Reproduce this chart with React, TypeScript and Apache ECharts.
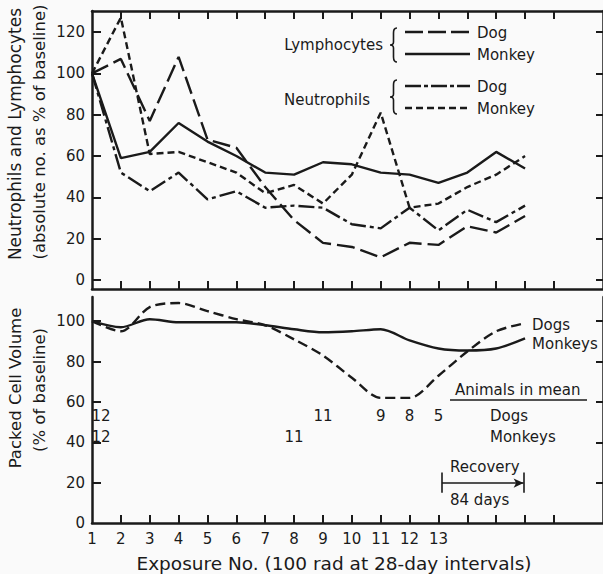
import React, { useEffect, useRef } from "react";
import * as echarts from "echarts";

const exposures = [1, 2, 3, 4, 5, 6, 7, 8, 9, 10, 11, 12, 13, 14, 15, 16];
const lymphDog = [100, 107, 77, 108, 68, 64, 45, 29, 18, 16, 11, 18, 17, 26, 23, 31];
const lymphMonkey = [100, 59, 62, 76, 67, 60, 52, 51, 57, 56, 52, 51, 47, 52, 62, 54];
const neutroDog = [100, 52, 43, 52, 39, 43, 35, 36, 35, 27, 25, 35, 24, 34, 28, 36];
const neutroMonkey = [100, 127, 61, 62, 57, 52, 42, 46, 37, 51, 81, 35, 37, 45, 51, 60];
const pcvDogs = [100, 95, 107, 109, 105, 101, 98, 91, 83, 72, 62, 62, 73, 85, 95, 99];
const pcvMonkeys = [100, 97, 101, 99.5, 99.5, 99.5, 98, 96, 94.5, 95, 96, 90.5, 86.5, 85.5, 86.5, 91.5];

const dogCountExposures = [1, 9, 11, 12, 13];
const dogCounts = [12, 11, 9, 8, 5];
const monkeyCountExposures = [1, 8];
const monkeyCounts = [12, 11];

const topYTicks = [0, 20, 40, 60, 80, 100, 120];
const bottomYLabels = [0, 20, 40, 60, 80, 100];
const bottomYTicks = [20, 40, 60, 80, 100];
const xTickValues = [2, 3, 4, 5, 6, 7, 8, 9, 10, 11, 12, 13, 14, 15, 16, 17];
const xLabelValues = [1, 2, 3, 4, 5, 6, 7, 8, 9, 10, 11, 12, 13];

const recoveryStart = 13.12;
const recoveryEnd = 15.95;

const INK = "#1a1a1a";
const FONT = "DejaVu Sans";

function pairs(xs: number[], ys: number[]) {
  return xs.map((x, i) => [x, ys[i]]);
}

export default function App() {
  const ref = useRef<HTMLDivElement>(null);
  useEffect(() => {
    if (!ref.current) return;
    try {
      echarts.graphic.registerShape(
        "brace",
        echarts.graphic.extendPath(
          "M7 0 C4 0 3.5 2 3.5 5 L3.5 14 C3.5 16 2.5 17 0 17 C2.5 17 3.5 18 3.5 20 L3.5 29 C3.5 32 4 34 7 34",
          {}
        )
      );
    } catch (e) {}
    const chart = echarts.init(ref.current, null, { renderer: "svg" });

    const axisLine = { show: true, onZero: false, lineStyle: { color: INK, width: 2.5 } };
    const tickStyle = { color: INK, width: 2 };

    const lineSeries = (name: string, data: number[], type: any, xi: number, yi: number, extra: any = {}) => ({
      name,
      type: "line",
      xAxisIndex: xi,
      yAxisIndex: yi,
      data: pairs(exposures, data),
      symbol: "none",
      lineStyle: { color: INK, width: 2.4, type },
      z: 3,
      ...extra,
    });

    const countSeries = (xs: number[], counts: number[], row: number) => ({
      type: "scatter",
      xAxisIndex: 2,
      yAxisIndex: 2,
      symbolSize: 0,
      silent: true,
      itemStyle: { color: INK, opacity: 1 },
      data: xs.map((x, i) => ({
        value: [x, row],
        label: {
          show: true,
          position: "inside",
          formatter: String(counts[i]),
          offset: x === 1 ? [9, 0] : [0, 0],
          color: INK,
          opacity: 1,
          textBorderWidth: 0,
          fontSize: 15,
          fontFamily: FONT,
        },
      })),
    });

    const textEl = (text: string, x: number, y: number, extra: any = {}) => ({
      type: "text",
      x,
      y,
      silent: true,
      style: {
        text,
        fill: INK,
        font: `15px ${FONT}`,
        verticalAlign: "middle",
        align: "left",
        ...extra,
      },
    });
    const legendLine = (x1: number, x2: number, y: number, dash: any) => ({
      type: "line",
      silent: true,
      shape: { x1, y1: y, x2, y2: y },
      style: { stroke: INK, lineWidth: 2.4, lineDash: dash },
    });

    const option: any = {
      animation: false,
      backgroundColor: "#fafafa",
      textStyle: { fontFamily: FONT },
      grid: [
        { left: 92, right: 0, top: 11, height: 278 },
        { left: 92, right: 0, top: 297, height: 226 },
      ],
      xAxis: [
        {
          gridIndex: 0, type: "value", min: 1, max: 18.7, position: "bottom",
          axisLine, axisTick: { show: true, inside: true, length: 8, customValues: xTickValues, lineStyle: tickStyle },
          axisLabel: { show: false }, splitLine: { show: false },
        },
        {
          gridIndex: 0, type: "value", min: 1, max: 18.7, position: "top",
          axisLine, axisTick: { show: true, inside: true, length: 8, customValues: xTickValues, lineStyle: tickStyle },
          axisLabel: { show: false }, splitLine: { show: false },
        },
        {
          gridIndex: 1, type: "value", min: 1, max: 18.7, position: "bottom",
          axisLine, axisTick: { show: true, inside: true, length: 8, customValues: xTickValues, lineStyle: tickStyle },
          axisLabel: { show: true, customValues: xLabelValues, color: INK, fontSize: 15, margin: 8, fontFamily: FONT },
          splitLine: { show: false },
        },
      ],
      yAxis: [
        {
          gridIndex: 0, type: "value", min: -4.35, max: 130.2, position: "left",
          axisLine, axisTick: { show: true, inside: true, length: 9, customValues: topYTicks, lineStyle: tickStyle },
          axisLabel: { show: true, customValues: topYTicks, color: INK, fontSize: 15, margin: 7, fontFamily: FONT },
          splitLine: { show: false },
        },
        {
          gridIndex: 0, type: "value", min: -4.35, max: 130.2, position: "right",
          axisLine, axisTick: { show: true, inside: true, length: 7, customValues: topYTicks, lineStyle: tickStyle },
          axisLabel: { show: false }, splitLine: { show: false },
        },
        {
          gridIndex: 1, type: "value", min: 0, max: 112, position: "left",
          axisLine, axisTick: { show: true, inside: true, length: 9, customValues: bottomYTicks, lineStyle: tickStyle },
          axisLabel: { show: true, customValues: bottomYLabels, color: INK, fontSize: 15, margin: 7, fontFamily: FONT },
          splitLine: { show: false },
        },
        {
          gridIndex: 1, type: "value", min: 0, max: 112, position: "right",
          axisLine, axisTick: { show: true, inside: true, length: 7, customValues: bottomYTicks, lineStyle: tickStyle },
          axisLabel: { show: false }, splitLine: { show: false },
        },
      ],
      series: [
        lineSeries("Lymphocytes Dog", lymphDog, [18, 6], 0, 0),
        lineSeries("Lymphocytes Monkey", lymphMonkey, "solid", 0, 0),
        lineSeries("Neutrophils Dog", neutroDog, [16, 4, 4, 4], 0, 0),
        lineSeries("Neutrophils Monkey", neutroMonkey, [7, 4], 0, 0),
        lineSeries("Dogs", pcvDogs, [10, 5], 2, 2, {
          smooth: 0.3,
          endLabel: { show: true, formatter: "Dogs", color: INK, fontSize: 15, fontFamily: FONT, distance: 7, offset: [0, 2] },
          markLine: {
            silent: true,
            symbol: ["none", "none"],
            label: { show: false },
            lineStyle: { color: INK, width: 1.6, type: "solid" },
            data: [
              [{ coord: [recoveryStart, 19.8] }, { coord: [recoveryEnd, 19.8], symbol: "arrow", symbolSize: [7, 10] }],
              [{ coord: [recoveryStart, 15] }, { coord: [recoveryStart, 25] }],
              [{ coord: [recoveryEnd, 15] }, { coord: [recoveryEnd, 25] }],
            ],
          },
        }),
        lineSeries("Monkeys", pcvMonkeys, "solid", 2, 2, {
          smooth: 0.3,
          endLabel: { show: true, formatter: "Monkeys", color: INK, fontSize: 15, fontFamily: FONT, distance: 7, offset: [0, 6] },
        }),
        countSeries(dogCountExposures, dogCounts, 53),
        countSeries(monkeyCountExposures, monkeyCounts, 42.6),
      ],
      graphic: [
        // top legend
        textEl("Lymphocytes", 383, 45, { align: "right" }),
        { type: "brace", x: 390, y: 28, silent: true, style: { stroke: INK, fill: null, lineWidth: 1.6 } },
        legendLine(405, 470, 32, [18, 5]),
        textEl("Dog", 477, 33),
        legendLine(405, 470, 54, null),
        textEl("Monkey", 477, 55),
        textEl("Neutrophils", 370, 100, { align: "right" }),
        { type: "brace", x: 390, y: 80, silent: true, style: { stroke: INK, fill: null, lineWidth: 1.6 } },
        legendLine(405, 470, 86, [16, 3, 4, 3]),
        textEl("Dog", 477, 87),
        legendLine(405, 470, 108, [7, 4]),
        textEl("Monkey", 477, 109),
        // bottom annotations
        textEl("Animals in mean", 455, 390),
        { type: "line", silent: true, shape: { x1: 450, y1: 400, x2: 587, y2: 400 }, style: { stroke: INK, lineWidth: 1.5 } },
        textEl("Dogs", 490, 416),
        textEl("Monkeys", 490, 437),
        textEl("Recovery", 450, 467),
        textEl("84 days", 450, 500),
        // axis titles
        {
          type: "text", x: 15, y: 134, rotation: Math.PI / 2, silent: true,
          style: { text: "Neutrophils and Lymphocytes", fill: INK, font: `17px ${FONT}`, align: "center", verticalAlign: "middle" },
        },
        {
          type: "text", x: 39, y: 132, rotation: Math.PI / 2, silent: true,
          style: { text: "(absolute no. as % of baseline)", fill: INK, font: `16.5px ${FONT}`, align: "center", verticalAlign: "middle" },
        },
        {
          type: "text", x: 15, y: 388, rotation: Math.PI / 2, silent: true,
          style: { text: "Packed Cell Volume", fill: INK, font: `16.5px ${FONT}`, align: "center", verticalAlign: "middle" },
        },
        {
          type: "text", x: 39, y: 390, rotation: Math.PI / 2, silent: true,
          style: { text: "(% of baseline)", fill: INK, font: `16.5px ${FONT}`, align: "center", verticalAlign: "middle" },
        },
        {
          type: "text", x: 334, y: 563, silent: true,
          style: { text: "Exposure No. (100 rad at 28-day intervals)", fill: INK, font: `18.5px ${FONT}`, align: "center", verticalAlign: "middle" },
        },
      ],
    };
    chart.setOption(option);
    return () => chart.dispose();
  }, []);
  return (
    <div
      ref={ref}
      style={{ position: "fixed", left: 0, top: 0, width: 603, height: 574 }}
    />
  );
}
